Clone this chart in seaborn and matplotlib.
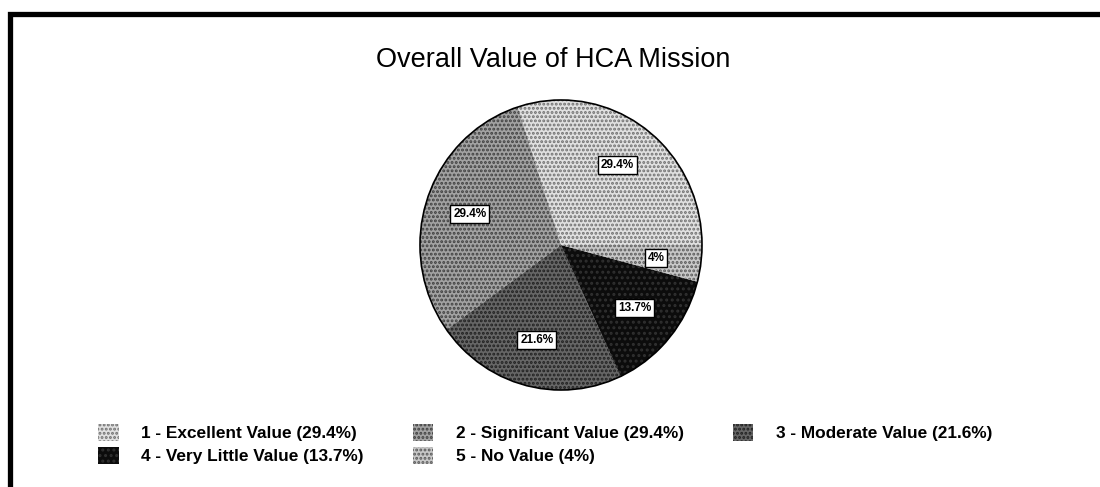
import matplotlib
matplotlib.use("Agg")
import matplotlib.pyplot as plt
import seaborn as sns
from matplotlib.lines import Line2D
from matplotlib.patches import Ellipse

# ---- data ----
categories = ["1 - Excellent Value", "2 - Significant Value", "3 - Moderate Value",
              "4 - Very Little Value", "5 - No Value"]
values = [29.4, 29.4, 21.6, 13.7, 4]
value_labels = ["29.4%", "29.4%", "21.6%", "13.7%", "4%"]
title = "Overall Value of HCA Mission"

# ---- style ----
sns.set_theme(style="white")
plt.rcParams['font.family'] = ['Liberation Sans', 'DejaVu Sans']
plt.rcParams['text.color'] = 'black'
plt.rcParams['hatch.linewidth'] = 1.4

face_colors = ["#e0e0e0", "#a2a2a2", "#666666", "#0c0c0c", "#c8c8c8"]
hatch_colors = ["#707070", "#404040", "#202020", "#303030", "#5a5a5a"]
hatches = ["....", "....", "....", "...", "...."]

W, H = 1100, 487
fig = plt.figure(figsize=(W / 100, H / 100), dpi=100)
fig.patch.set_facecolor("white")


def fx(px):
    return px / W


def fy(py):
    return 1 - py / H


cx, cy, rx, ry = 561, 245, 141, 145
ax = fig.add_axes([fx(cx - rx), fy(cy + ry), 2 * rx / W, 2 * ry / H])

lab_iter = iter(value_labels)
wedges, texts, autotexts = ax.pie(
    values, colors=face_colors, startangle=0, counterclock=True,
    autopct=lambda p: next(lab_iter), pctdistance=0.68,
    wedgeprops=dict(linewidth=0))

for w, hc, ht in zip(wedges, hatch_colors, hatches):
    w.set_hatch(ht)
    w.set_edgecolor(hc)
    w.set_linewidth(0)

for t in autotexts:
    t.set_fontsize(8.5)
    t.set_fontweight("bold")
    t.set_color("black")
    t.set_bbox(dict(boxstyle="square,pad=0.25", fc="white", ec="black", lw=1.0))

outline = Ellipse((0, 0), 2, 2, fill=False, ec="black", lw=1.2, clip_on=False)
ax.add_patch(outline)
ax.set_xlim(-1, 1)
ax.set_ylim(-1, 1)
ax.set_aspect("auto")
ax.axis("off")

# ---- title ----
fig.text(fx(553), fy(60), title, ha="center", va="center", fontsize=19.5,
         color="black",
         family=["Liberation Sans Narrow", "Liberation Sans", "DejaVu Sans"])

# ---- legend (row-wise order) ----
order = [0, 3, 1, 4, 2]
handles = [wedges[i] for i in order]
labels = [f"{categories[i]} ({value_labels[i]})" for i in order]
leg = fig.legend(handles, labels, loc="upper left", bbox_to_anchor=(fx(98), fy(424)),
                 ncol=3, frameon=False, prop=dict(size=12.4, weight="bold"),
                 handlelength=1.2, handleheight=1.15, handletextpad=1.3,
                 columnspacing=2.85, labelspacing=0.3, borderpad=0, borderaxespad=0)
for t in leg.get_texts():
    t.set_color("black")

# ---- frame ----
fig.add_artist(Line2D([fx(10), fx(10), 1.0], [0, fy(13.5), fy(13.5)],
                      transform=fig.transFigure, color="black", lw=3.8,
                      solid_joinstyle="miter"))

fig.savefig("out.png", dpi=100, facecolor="white")
